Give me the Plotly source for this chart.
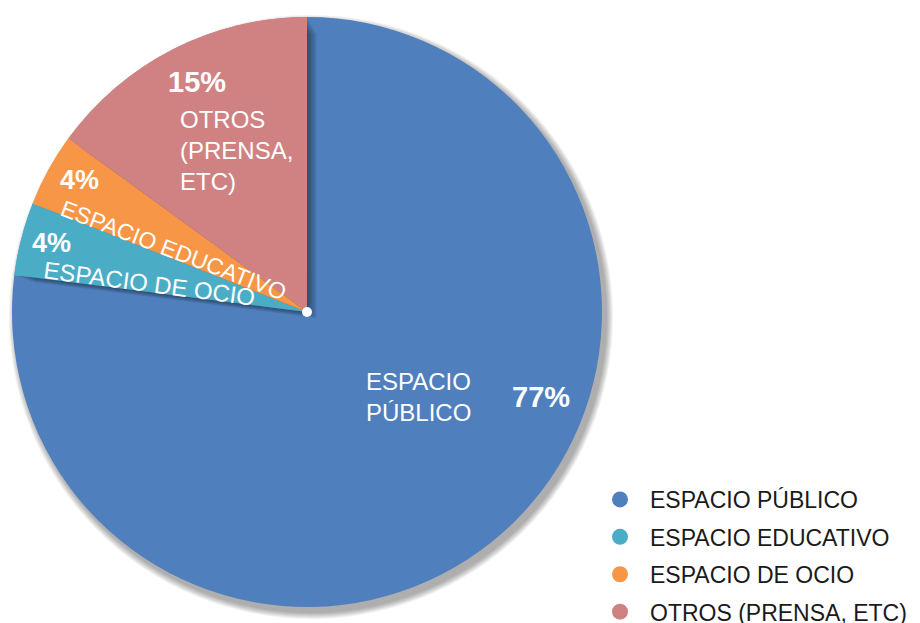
import plotly.graph_objects as go

# ---- data ----
legend_labels = ["ESPACIO PÚBLICO", "ESPACIO EDUCATIVO", "ESPACIO DE OCIO", "OTROS (PRENSA, ETC)"]
values = [77, 4, 4, 15]
slice_texts = ["ESPACIO<br>PÚBLICO", "ESPACIO DE OCIO", "ESPACIO EDUCATIVO", "OTROS<br>(PRENSA,<br>ETC)"]
pct_texts = ["77%", "4%", "4%", "15%"]
colors = ["#4F7FBD", "#4BACC6", "#F79646", "#D08282"]

# page body has an 8px margin -> figure is offset by 8px
OFF = 8
W, H = 912, 615
FONT = "Liberation Sans, Arial, sans-serif"

def px(x):
    return (x - OFF) / W

def py(y):
    return 1 - (y - OFF) / H

def dom(cx, cy, r):
    return dict(x=[px(cx - r), px(cx + r)], y=[py(cy + r), py(cy - r)])

cx, cy, r = 307, 312, 295

fig = go.Figure()

# soft outer drop shadow
for k in range(7):
    fig.add_trace(go.Pie(
        values=values, sort=False, direction="clockwise", rotation=0,
        marker=dict(colors=["rgba(0,0,0,0.05)"] * len(values), line=dict(width=0)),
        textinfo="none", showlegend=False, hoverinfo="skip",
        domain=dom(cx + 4, cy + 5, r + 7 - k),
    ))

# main pie
fig.add_trace(go.Pie(
    labels=legend_labels, values=values, sort=False, direction="clockwise", rotation=0,
    marker=dict(colors=colors, line=dict(width=0)),
    textinfo="none", showlegend=False,
    domain=dom(cx, cy, r),
))

# inner shadows cast by the small slices onto the big one
shadow_cols = ["rgba(0,0,0,0)"] + ["rgba(0,0,0,0.07)"] * (len(values) - 1)
for k in range(1, 7):
    fig.add_trace(go.Pie(
        values=values, sort=False, direction="clockwise", rotation=0,
        marker=dict(colors=shadow_cols, line=dict(width=0)),
        textinfo="none", showlegend=False, hoverinfo="skip",
        domain=dom(cx + 1.6 * k, cy + 1.0 * k, r - 1.6 * k),
    ))

# small slices drawn again on top of their shadows
top_cols = ["rgba(0,0,0,0)"] + colors[1:]
fig.add_trace(go.Pie(
    labels=legend_labels, values=values, sort=False, direction="clockwise", rotation=0,
    marker=dict(colors=top_cols, line=dict(width=0)),
    textinfo="none", showlegend=False,
    domain=dom(cx, cy, r),
))

for i, (lab, col) in enumerate(zip(legend_labels, colors)):
    fig.add_trace(go.Scatter(x=[None], y=[None], mode="markers", name=lab, legendgroup=f"g{i}",
                             marker=dict(symbol="circle", size=19, color=col)))

ann = []
def add(text, x, y, size, bold=False, angle=0, xanchor="center", align="center"):
    ann.append(dict(text=f"<b>{text}</b>" if bold else text, x=px(x), y=py(y), xref="paper", yref="paper",
                    showarrow=False, textangle=angle, xanchor=xanchor, yanchor="middle", align=align,
                    font=dict(family=FONT, size=size, color="white")))

add(pct_texts[0], 541, 397, 29, bold=True)
add(slice_texts[0], 364, 397, 24, xanchor="left", align="left")
add(pct_texts[3], 197, 82, 29, bold=True)
add(slice_texts[3], 178, 150, 24, xanchor="left", align="left")
add(pct_texts[2], 79, 180, 27, bold=True)
add(slice_texts[2], 173, 250, 23, angle=21)
add(pct_texts[1], 51, 243, 27, bold=True)
add(slice_texts[1], 149, 283, 24, angle=7.5)

fig.update_layout(
    width=W, height=H, margin=dict(l=0, r=0, t=0, b=0, autoexpand=False),
    paper_bgcolor="white", plot_bgcolor="white",
    xaxis=dict(visible=False), yaxis=dict(visible=False),
    annotations=ann,
    legend=dict(x=px(590), y=-11 / H, xanchor="left", yanchor="bottom", itemwidth=50,
                tracegroupgap=4.5,
                font=dict(family=FONT, size=23, color="#1a1a1a"), bgcolor="rgba(0,0,0,0)"),
    shapes=[dict(type="circle", xref="paper", yref="paper",
                 x0=px(cx - 5), x1=px(cx + 5), y0=py(cy + 5), y1=py(cy - 5),
                 fillcolor="white", line=dict(width=0))],
)

fig.write_html("out.html")
